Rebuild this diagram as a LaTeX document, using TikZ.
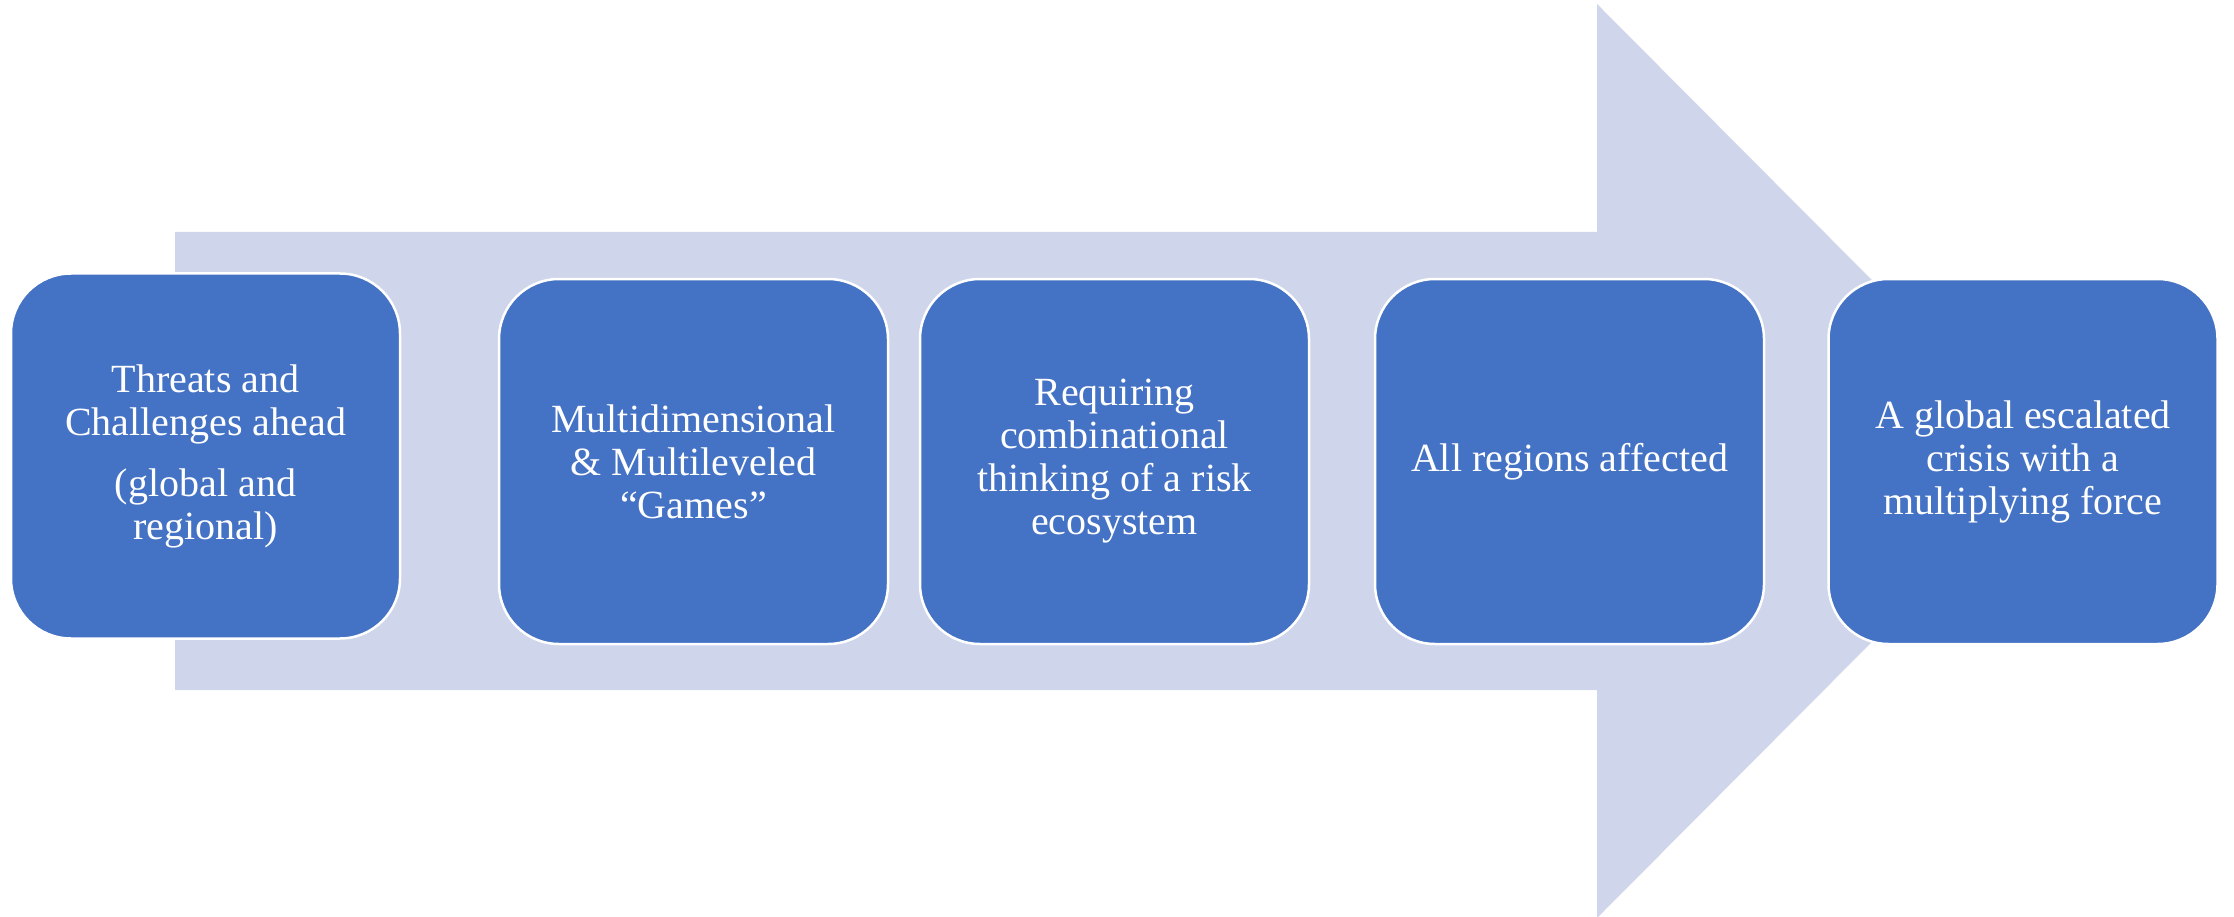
\documentclass[tikz,border=0pt]{standalone}
\usepackage{fontspec}
\setmainfont{Liberation Serif}
\definecolor{arrowfill}{HTML}{CFD5EA}
\definecolor{boxfill}{HTML}{4472C4}
\begin{document}
\begin{tikzpicture}[x=1pt,y=-1pt,
  stagebox/.style={draw=white, line width=2.5pt, fill=boxfill, rounded corners=60pt,
    minimum width=389pt, minimum height=365pt, inner sep=0pt,
    text=white, align=center, font=\fontsize{40}{43}\selectfont}]
\useasboundingbox (0,0) rectangle (2234,917);
\fill[arrowfill] (175,232) -- (1597,232) -- (1597,4) -- (2052,461) -- (1597,918) -- (1597,690) -- (175,690) -- cycle;
\node[stagebox] (b1) at (205.5,456) {Threats and\\Challenges ahead\\[18pt](global and\\regional)};
\node[stagebox] (b2) at (693.5,461.5) {Multidimensional\\\& Multileveled\\``Games''};
\node[stagebox] (b3) at (1114.5,461.5) {Requiring\\combinational\\thinking of a risk\\ecosystem};
\node[stagebox] (b4) at (1569.5,461.5) {All regions affected};
\node[stagebox] (b5) at (2023,461.5) {A global escalated\\crisis with a\\multiplying force};
\end{tikzpicture}
\end{document}
